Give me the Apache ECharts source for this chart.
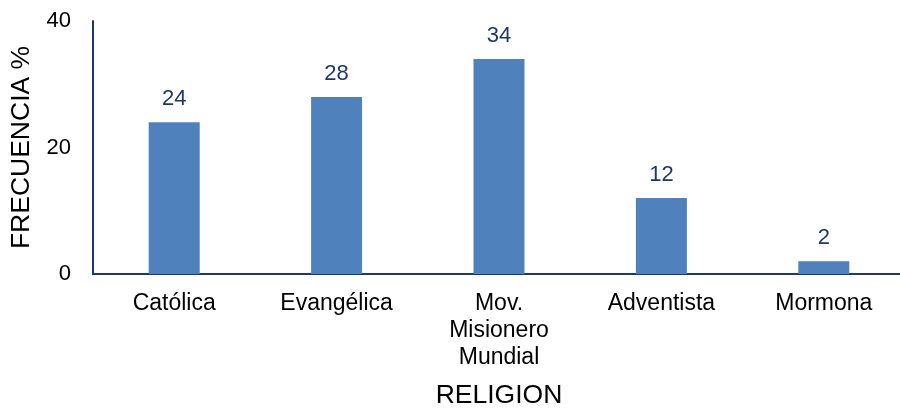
<!DOCTYPE html>
<html>
<head>
<meta charset="utf-8">
<script src="https://cdn.jsdelivr.net/npm/echarts@6/dist/echarts.min.js"></script>
<style>
  html, body { margin: 0; padding: 0; background: #fff; }
  #chart { width: 900px; height: 409px; }
</style>
</head>
<body>
<div id="chart"></div>
<script>
// Religious affiliation, frequency in percent
const categories = ['Católica', 'Evangélica', 'Mov.\nMisionero\nMundial', 'Adventista', 'Mormona'];
const frecuencia = [24, 28, 34, 12, 2];
const yTicks = { min: 0, max: 40, interval: 20 };

const font = '"Liberation Sans", Arial, sans-serif';
const axisColor = '#1F3864';

const chart = echarts.init(document.getElementById('chart'));
chart.setOption({
  animation: false,
  grid: { left: 93, top: 21, width: 812, height: 253, outerBoundsMode: 'none', containLabel: false },
  xAxis: {
    type: 'category',
    data: categories,
    name: 'RELIGION',
    nameLocation: 'middle',
    nameGap: 108,
    nameTextStyle: { fontFamily: font, fontSize: 26.5, color: '#000' },
    axisLine: { lineStyle: { color: axisColor, width: 2 } },
    axisTick: { show: false },
    axisLabel: {
      interval: 0, margin: 16, fontFamily: font, fontSize: 23,
      color: '#000', lineHeight: 27
    }
  },
  yAxis: {
    type: 'value',
    min: yTicks.min, max: yTicks.max, interval: yTicks.interval,
    name: 'FRECUENCIA %',
    nameLocation: 'middle',
    nameGap: 55,
    nameTextStyle: { fontFamily: font, fontSize: 26.5, color: '#000' },
    axisLine: { show: true, lineStyle: { color: axisColor, width: 2 } },
    axisTick: { show: false },
    splitLine: { show: false },
    axisLabel: { margin: 22, fontFamily: font, fontSize: 22, color: '#000' }
  },
  series: [{
    type: 'bar',
    data: frecuencia,
    barWidth: 51,
    itemStyle: { color: '#4F81BD' },
    label: {
      show: true, position: 'top', distance: 12,
      fontFamily: font, fontSize: 22, color: '#1F3864'
    }
  }]
});
</script>
</body>
</html>
